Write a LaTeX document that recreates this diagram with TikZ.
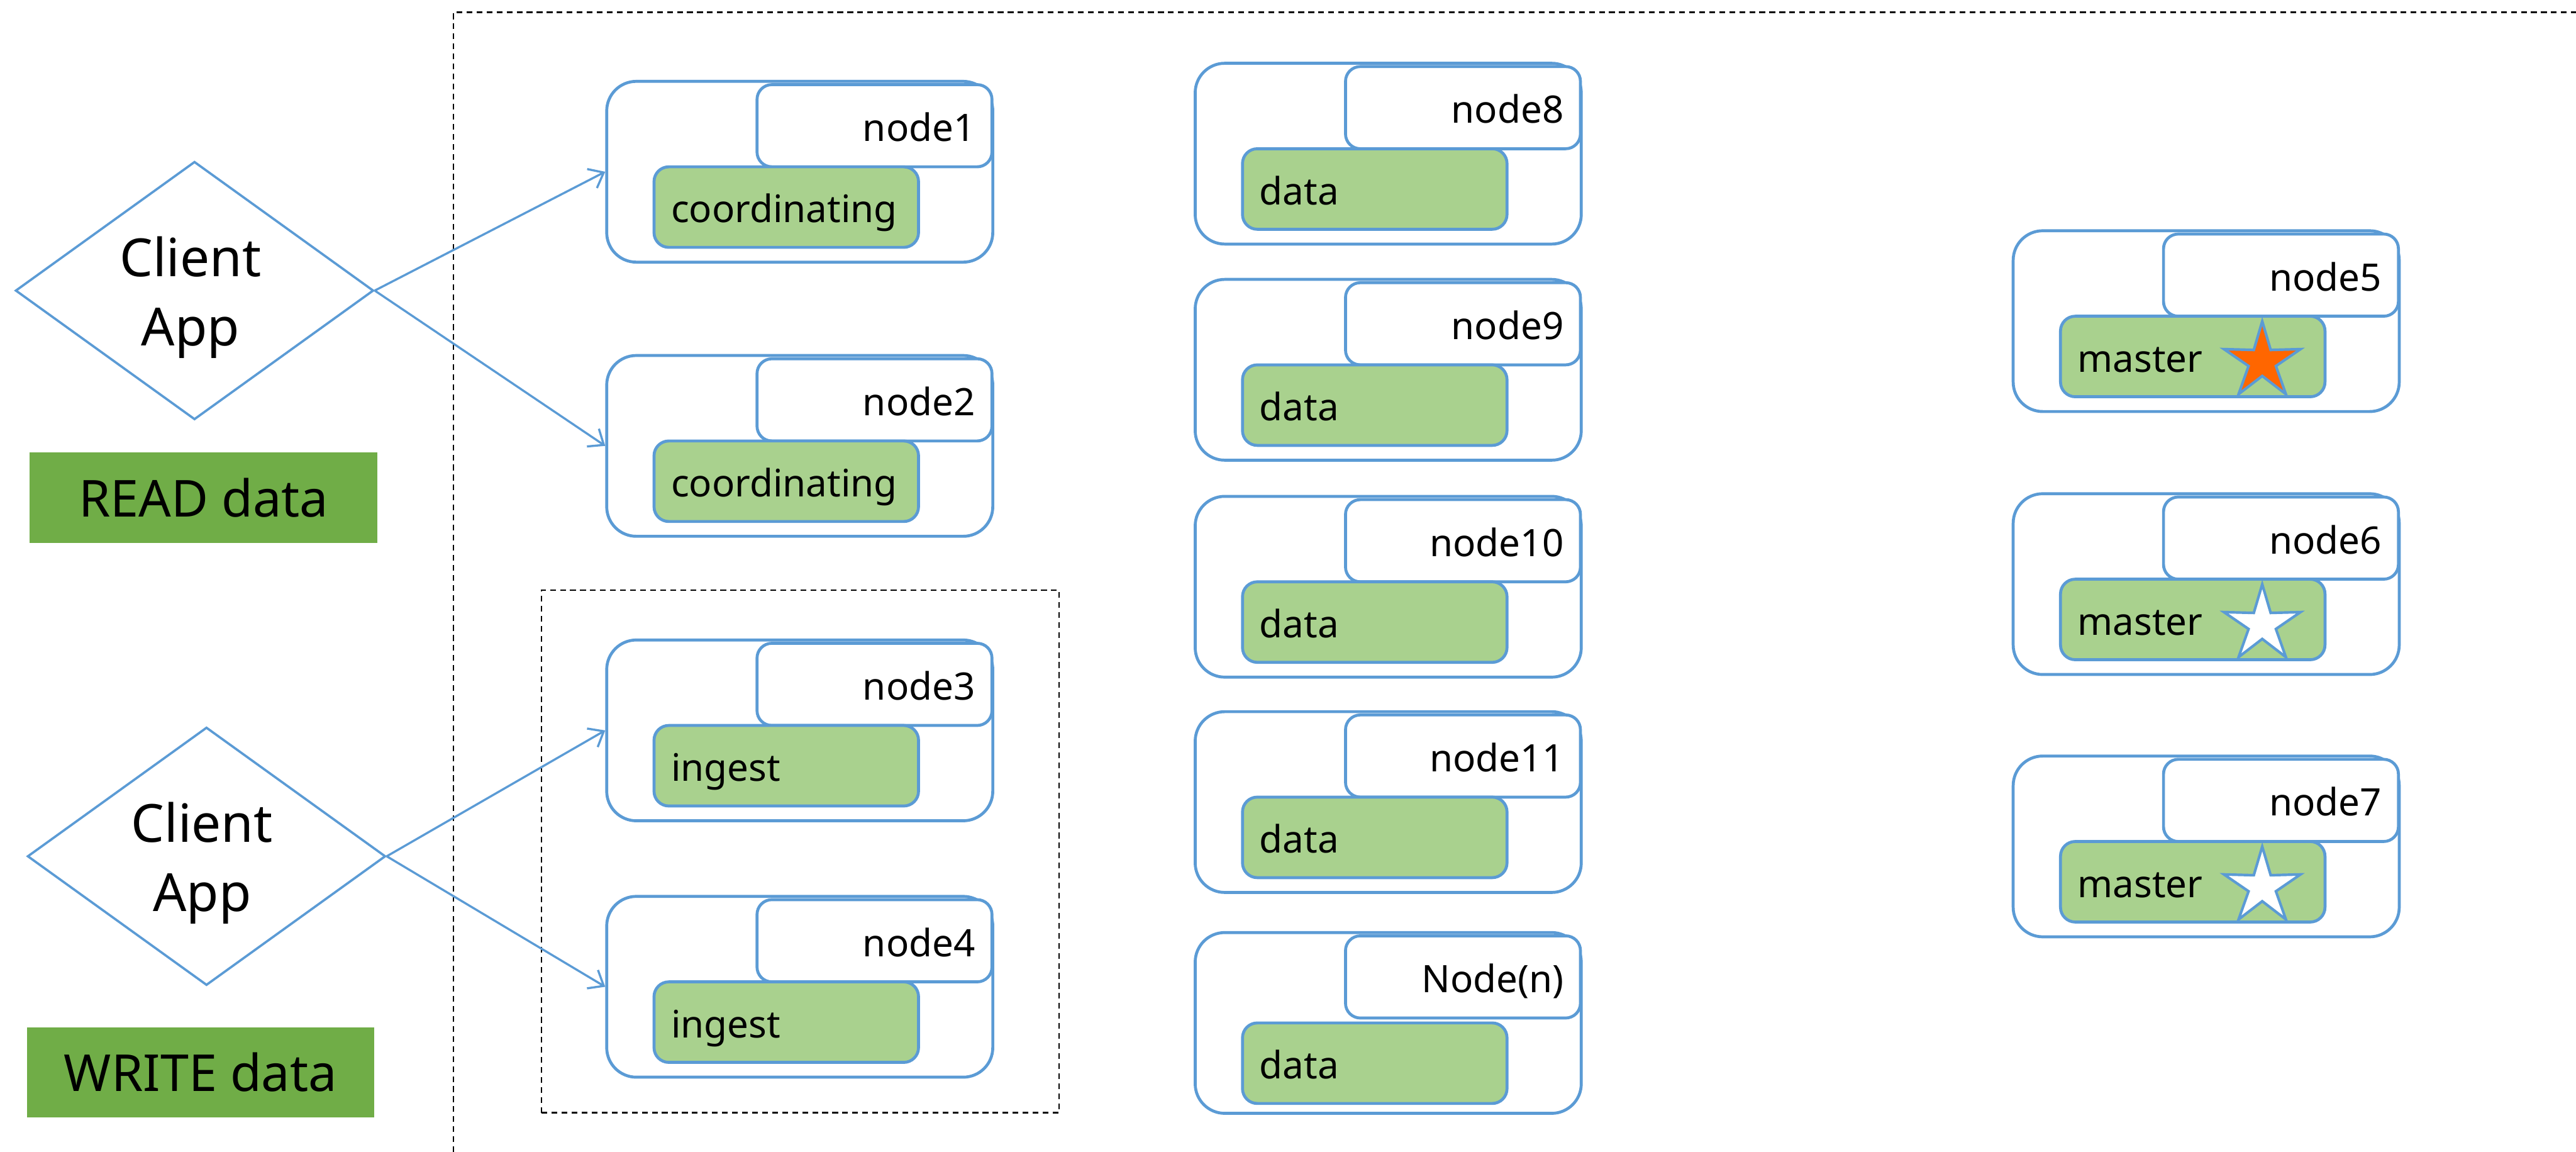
\documentclass[tikz,border=0pt]{standalone}
\usepackage{fontspec}
\setmainfont{Noto Sans}
\usetikzlibrary{shapes.geometric,arrows.meta}
\definecolor{esblue}{HTML}{5B9BD5}
\definecolor{esgreen}{HTML}{A9D18E}
\definecolor{esdark}{HTML}{70AD47}
\definecolor{esorange}{HTML}{FF6600}
\tikzset{
  outerbox/.style={draw=esblue, line width=1.8pt, rounded corners=18pt, fill=white,
    minimum width=235pt, minimum height=110pt, inner sep=0pt},
  namebox/.style={draw=esblue, line width=1.8pt, rounded corners=9pt, fill=white,
    minimum width=143pt, minimum height=50pt, inner sep=0pt},
  rolebox/.style={draw=esblue, line width=1.8pt, rounded corners=9pt, fill=esgreen,
    minimum width=161pt, minimum height=49pt, inner sep=0pt},
  labeltext/.style={font=\fontsize{23}{28}\selectfont, inner sep=0pt},
  bigtext/.style={font=\fontsize{32}{42}\selectfont, inner sep=0pt, align=center},
  clientshape/.style={diamond, draw=esblue, line width=1.4pt, fill=white, inner sep=0pt,
    aspect=1.39, minimum width=218pt, minimum height=157pt},
  tagbox/.style={fill=esdark, inner sep=0pt, minimum width=211.5pt, minimum height=55pt,
    font=\fontsize{31}{38}\selectfont},
  arrowline/.style={draw=esblue, line width=1.3pt, -{Straight Barb[length=8pt,width=13pt]}},
  framedash/.style={draw=black, line width=0.9pt, dash pattern=on 3.5pt off 2.6pt},
  starshape/.style={star, star points=5, star point ratio=2.8, minimum size=49pt,
    inner sep=0pt, draw=esblue, line width=1.6pt},
}
\newcommand\esnode[6]{%
  \node[outerbox] (#1) at ({#2+117.5},{#3+55}) {};
  \node[namebox] (#1-name) at ({#2+163},{#3+27}) {};
  \node[rolebox] (#1-role) at ({#2+109.3},{#3+76.5+#6}) {};
  \node[labeltext, anchor=base east] (#1-nl) at ({#2+224.5},{#3+36.5}) {#4};
  \node[labeltext, anchor=base west] (#1-rl) at ({#2+39},{#3+86+#6}) {#5};
}
\begin{document}
\begin{tikzpicture}[x=1pt,y=-1pt]
\useasboundingbox (0,0) rectangle (1568,700.8);
% frames
\draw[framedash] (276,701) -- (276,7.5) -- (1568,7.5);
\node[framedash, minimum width=315pt, minimum height=318pt, inner sep=0pt] (ingestframe) at (487.2,518) {};
% clients
\node[clientshape] (c1) at (118.4,176.8) {};
\node[bigtext] (c1t) at (116,181) {Client\\App};
\node[clientshape] (c2) at (125.7,521) {};
\node[bigtext] (c2t) at (123,525) {Client\\App};
\node[tagbox] (readtag) at (123.9,302.7) {READ data};
\node[tagbox] (writetag) at (122.1,652.5) {WRITE data};
% nodes
\esnode{n1}{369.3}{49.5}{node1}{coordinating}{0}
\esnode{n2}{369.3}{216.3}{node2}{coordinating}{0}
\esnode{n3}{369.3}{389.4}{node3}{ingest}{0}
\esnode{n4}{369.3}{545.4}{node4}{ingest}{0}
\esnode{n8}{727.5}{38.5}{node8}{data}{0}
\esnode{n9}{727.5}{170}{node9}{data}{0}
\esnode{n10}{727.5}{302}{node10}{data}{0}
\esnode{n11}{727.5}{433}{node11}{data}{0}
\esnode{nn}{727.5}{567.4}{Node(n)}{data}{3}
\esnode{n5}{1225.4}{140.4}{node5}{master}{0}
\esnode{n6}{1225.4}{300.4}{node6}{master}{0}
\esnode{n7}{1225.4}{460}{node7}{master}{0}
\node[starshape, fill=esorange] (n5-star) at (1377,220) {};
\node[starshape, fill=white] (n6-star) at (1377,380) {};
\node[starshape, fill=white] (n7-star) at (1377,539.6) {};
% connectors
\draw[arrowline] (c1.east) -- (n1.west);
\draw[arrowline] (c1.east) -- (n2.west);
\draw[arrowline] (c2.east) -- (n3.west);
\draw[arrowline] (c2.east) -- (n4.west);
\end{tikzpicture}
\end{document}
